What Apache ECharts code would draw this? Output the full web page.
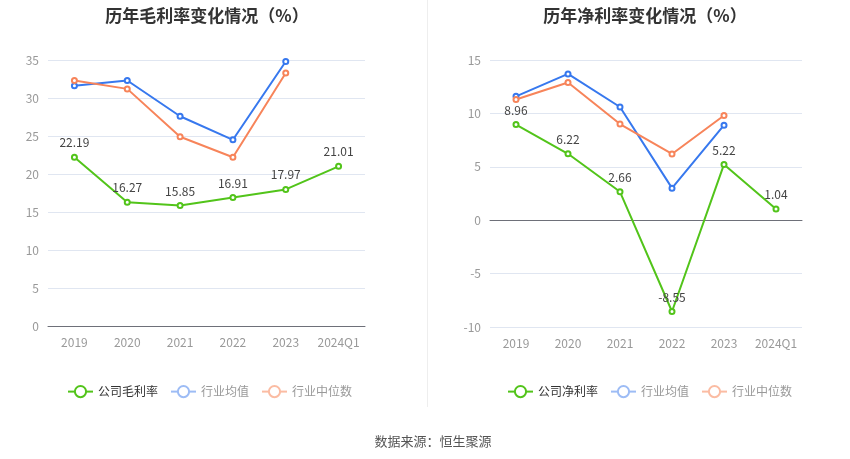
<!DOCTYPE html>
<html><head><meta charset="utf-8">
<script src="https://cdn.jsdelivr.net/npm/echarts@6/dist/echarts.min.js"></script>
<style>html,body{margin:0;padding:0;background:#fff}#c{width:850px;height:459px}</style>
</head><body><div id="c"></div>
<script>
var categories = ['2019','2020','2021','2022','2023','2024Q1'];
var grossCompany = [22.19,16.27,15.85,16.91,17.97,21.01];
var grossIndustryAvg = [31.6,32.3,27.6,24.5,34.8,null];
var grossIndustryMedian = [32.3,31.2,24.9,22.2,33.3,null];
var netCompany = [8.96,6.22,2.66,-8.55,5.22,1.04];
var netIndustryAvg = [11.6,13.7,10.6,3.0,8.9,null];
var netIndustryMedian = [11.3,12.9,9.0,6.2,9.8,null];

var GREEN='#52c41a', BLUE='#3778ee', ORANGE='#f7845a';
var font='"Noto Sans CJK SC","Noto Sans",sans-serif';
var chart = echarts.init(document.getElementById('c'));
function line(name,data,color,xi,yi,label){
  return {name:name,type:'line',data:data,xAxisIndex:xi,yAxisIndex:yi,
    symbol:'emptyCircle',symbolSize:5,showSymbol:true,
    lineStyle:{width:2,color:color},itemStyle:{color:color,borderWidth:2},
    label:{show:!!label,position:'top',color:'#444',fontSize:12,fontFamily:font},
    connectNulls:false,z:label?3:2};
}
function legendData(first){
  return [
    {name:first,textStyle:{color:'#333'}},
    {name:'行业均值',textStyle:{color:'#999'},itemStyle:{color:'#9dbcf5'},lineStyle:{color:'#9dbcf5'}},
    {name:'行业中位数',textStyle:{color:'#999'},itemStyle:{color:'#fbbca3'},lineStyle:{color:'#fbbca3'}}
  ];
}
var axisLabel={color:'#999',fontSize:12,fontFamily:font};
var split={lineStyle:{color:'#e0e6f1'}};
chart.setOption({
  animation:false,
  textStyle:{fontFamily:font},
  title:[
    {text:'历年毛利率变化情况（%）',left:202,top:2,textAlign:'center',textStyle:{fontSize:17,fontWeight:'bold',color:'#333',fontFamily:font}},
    {text:'历年净利率变化情况（%）',left:640,top:2,textAlign:'center',textStyle:{fontSize:17,fontWeight:'bold',color:'#333',fontFamily:font}},
    {text:'数据来源：恒生聚源',left:428,top:430,textAlign:'center',textStyle:{fontSize:13,fontWeight:'normal',color:'#555',fontFamily:font}}
  ],
  graphic:[{type:'line',shape:{x1:427.5,y1:0,x2:427.5,y2:407},style:{stroke:'#eeeeee',lineWidth:1}}],
  legend:[
    {left:62,top:380,itemGap:12,itemWidth:25,itemHeight:14,textStyle:{fontSize:12,fontFamily:font},data:legendData('公司毛利率'),selectedMode:false},
    {left:502,top:380,itemGap:12,itemWidth:25,itemHeight:14,textStyle:{fontSize:12,fontFamily:font},data:legendData('公司净利率'),selectedMode:false}
  ],
  grid:[
    {left:48,right:485,top:60,bottom:133},
    {left:490,right:48,top:60,bottom:132}
  ],
  xAxis:[
    {type:'category',gridIndex:0,data:categories,axisLabel:Object.assign({margin:10,interval:0},axisLabel),
      axisLine:{lineStyle:{color:'#6e7079'}},axisTick:{alignWithLabel:true,lineStyle:{color:'#6e7079'}}},
    {type:'category',gridIndex:1,data:categories,position:'bottom',axisLabel:Object.assign({margin:10,interval:0},axisLabel),
      axisLine:{show:false,onZero:false},axisTick:{show:false}},
    {type:'category',gridIndex:1,data:categories,position:'bottom',axisLabel:{show:false},
      axisLine:{onZero:true,lineStyle:{color:'#6e7079'}},axisTick:{alignWithLabel:true,interval:0,lineStyle:{color:'#6e7079'}}}
  ],
  yAxis:[
    {type:'value',gridIndex:0,min:0,max:35,interval:5,axisLabel:Object.assign({margin:9},axisLabel),splitLine:split,axisLine:{show:false},axisTick:{show:false}},
    {type:'value',gridIndex:1,min:-10,max:15,interval:5,axisLabel:Object.assign({margin:9},axisLabel),splitLine:split,axisLine:{show:false},axisTick:{show:false}}
  ],
  series:[
    line('公司毛利率',grossCompany,GREEN,0,0,true),
    line('行业均值',grossIndustryAvg,BLUE,0,0,false),
    line('行业中位数',grossIndustryMedian,ORANGE,0,0,false),
    line('公司净利率',netCompany,GREEN,1,1,true),
    line('行业均值',netIndustryAvg,BLUE,1,1,false),
    line('行业中位数',netIndustryMedian,ORANGE,1,1,false)
  ]
});
</script></body></html>
